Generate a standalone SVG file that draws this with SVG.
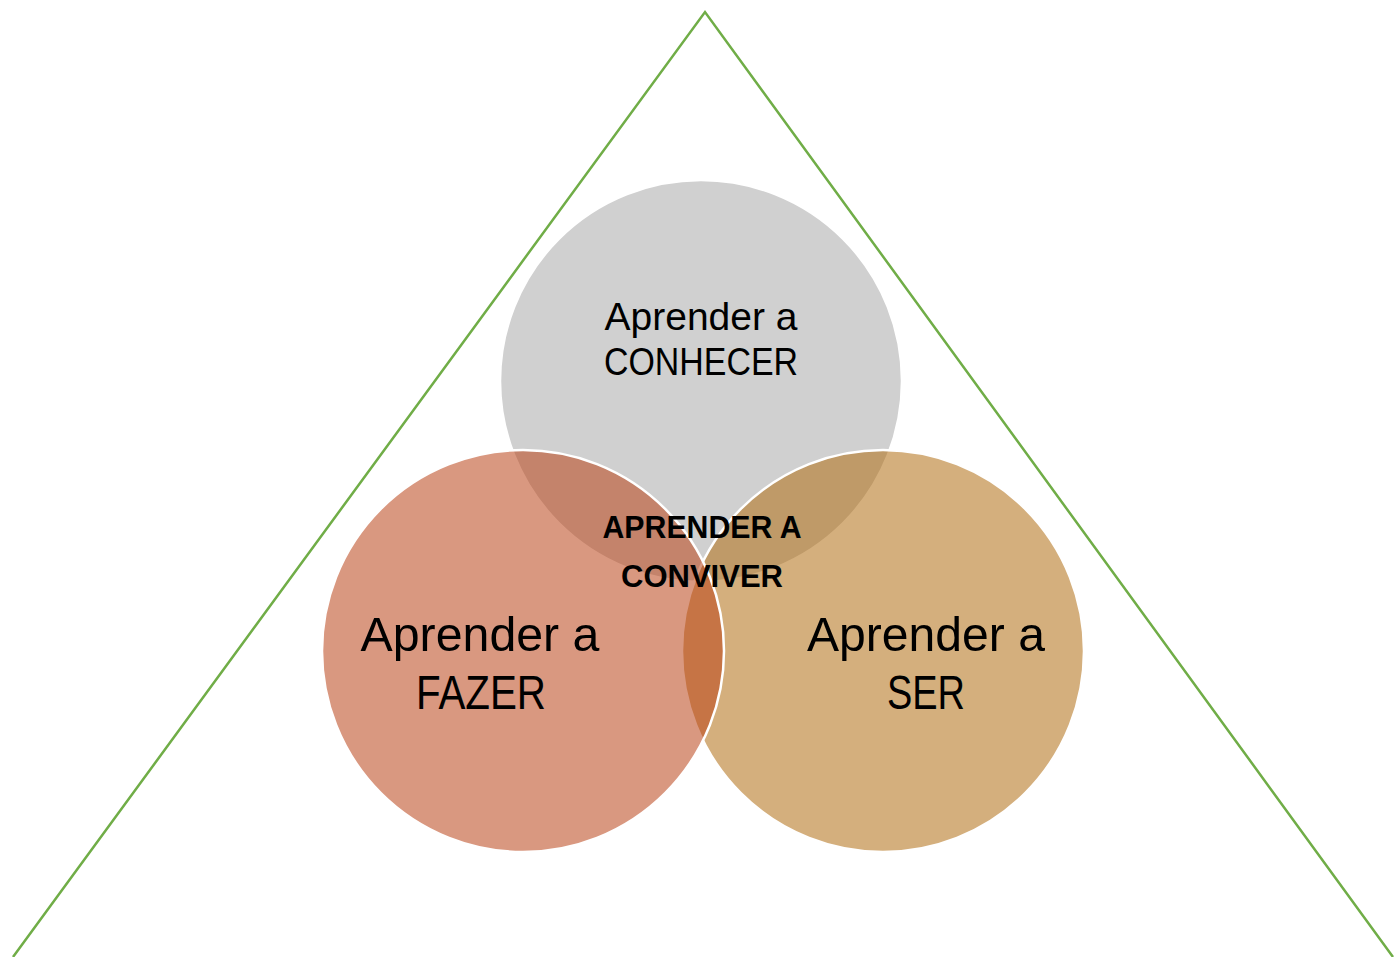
<svg xmlns="http://www.w3.org/2000/svg" width="1394" height="957" viewBox="0 0 1394 957">
  <style>
    .ring { stroke: #ffffff; stroke-width: 2.5; }
    .label { font-family: "Liberation Sans", Arial, sans-serif; fill: #000000; text-anchor: middle; }
    .big { font-size: 49px; }
    .mid { font-size: 39px; }
    .core { font-size: 31px; font-weight: bold; }
  </style>
  <rect width="1394" height="957" fill="#ffffff"/>

  <!-- outer triangle -->
  <g id="triangle">
    <polyline points="13,957 705,12 1393,957" fill="none" stroke="#70AD47" stroke-width="2.5"/>
  </g>

  <!-- Venn circles: top first, then right, then left on top -->
  <g id="node-conhecer">
    <circle class="ring" cx="701" cy="381" r="201" fill="#D0D0D0"/>
    <text class="label mid" x="701" y="330" textLength="193" lengthAdjust="spacingAndGlyphs">Aprender a</text>
    <text class="label mid" x="701" y="375" textLength="194" lengthAdjust="spacingAndGlyphs">CONHECER</text>
  </g>
  <g id="node-ser">
    <circle class="ring" cx="883" cy="651" r="201" fill="#B16E13" fill-opacity="0.55"/>
  </g>
  <g id="node-fazer">
    <circle class="ring" cx="523" cy="651" r="201" fill="#BA4418" fill-opacity="0.55"/>
  </g>

  <g id="labels-bottom">
    <text class="label big" x="480" y="651" textLength="239" lengthAdjust="spacingAndGlyphs">Aprender a</text>
    <text class="label big" x="481" y="709" textLength="130" lengthAdjust="spacingAndGlyphs">FAZER</text>
    <text class="label big" x="926" y="651" textLength="238" lengthAdjust="spacingAndGlyphs">Aprender a</text>
    <text class="label big" x="926" y="709" textLength="78" lengthAdjust="spacingAndGlyphs">SER</text>
  </g>

  <g id="node-conviver">
    <text class="label core" x="702" y="538" textLength="199" lengthAdjust="spacingAndGlyphs">APRENDER A</text>
    <text class="label core" x="702" y="587" textLength="162" lengthAdjust="spacingAndGlyphs">CONVIVER</text>
  </g>
</svg>
